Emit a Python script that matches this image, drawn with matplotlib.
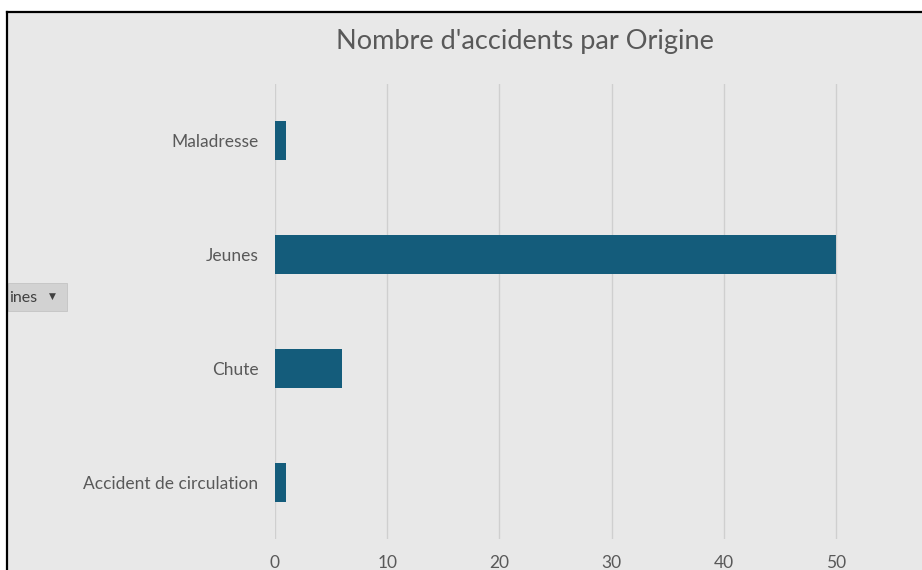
import matplotlib
matplotlib.use("Agg")
import matplotlib.pyplot as plt
from matplotlib.patches import Rectangle

categories = ["Accident de circulation", "Chute", "Jeunes", "Maladresse"]
values = [1, 6, 50, 1]
x_ticks = [0, 10, 20, 30, 40, 50]
title = "Nombre d'accidents par Origine"

W, H = 922, 570
plt.rcParams['font.family'] = ['Lato', 'DejaVu Sans']
fig = plt.figure(figsize=(W / 100, H / 100), dpi=100)
fig.patch.set_facecolor("white")

bg = "#e8e8e8"
# chart area background with black border (top / left)
fig.patches.append(Rectangle((7 / W, -0.1), 1.2, (H - 12) / H + 0.1, transform=fig.transFigure,
                             facecolor=bg, edgecolor="none", zorder=-5))
fig.add_artist(plt.Line2D([7 / W, 7 / W], [0, 1 - 12 / H], transform=fig.transFigure,
                          color="black", lw=1.6, zorder=10))
fig.add_artist(plt.Line2D([7 / W, 1], [1 - 12 / H, 1 - 12 / H], transform=fig.transFigure,
                          color="black", lw=1.6, zorder=10))

left, right = 275, 922
top, bottom = 84, 539
ax = fig.add_axes([left / W, 1 - bottom / H, (right - left) / W, (bottom - top) / H])
ax.set_zorder(1)
ax.set_facecolor(bg)
ypos = list(range(len(categories)))
ax.barh(ypos, values, height=0.345, color="#145c7b", zorder=3)
px_per_unit = (836 - 275) / 50
ax.set_xlim(0, (right - left) / px_per_unit)
ax.set_ylim(-0.5, len(categories) - 0.5)
ax.set_xticks(x_ticks)
ax.set_yticks(ypos)
ax.set_yticklabels(categories)
ax.grid(axis="x", color="#cfcfcf", lw=1.0, zorder=0)
ax.grid(axis="y", visible=False)
for s in ax.spines.values():
    s.set_visible(False)
ax.tick_params(axis="both", length=0, colors="#595959", labelsize=12.5)
ax.tick_params(axis="y", pad=12)
ax.tick_params(axis="x", pad=11.5)

fig.text(525 / W, 1 - 41 / H, title, ha="center", va="center", fontsize=19.5, color="#595959")

# partially visible filter button
fig.patches.append(Rectangle((8 / W, 1 - 311 / H), 59 / W, 28 / H, transform=fig.transFigure,
                             facecolor="#d2d2d2", edgecolor="#c4c4c4", lw=0.6, zorder=5))
fig.text(9 / W, 1 - 298 / H, "ines", ha="left", va="center", fontsize=11.5, color="#404040", zorder=6)
fig.text(52 / W, 1 - 296 / H, "\u25BC", ha="center", va="center", fontsize=6.5, color="#404040",
         family=["DejaVu Sans"], zorder=6)

fig.savefig("out.png", dpi=100, facecolor=fig.get_facecolor())
